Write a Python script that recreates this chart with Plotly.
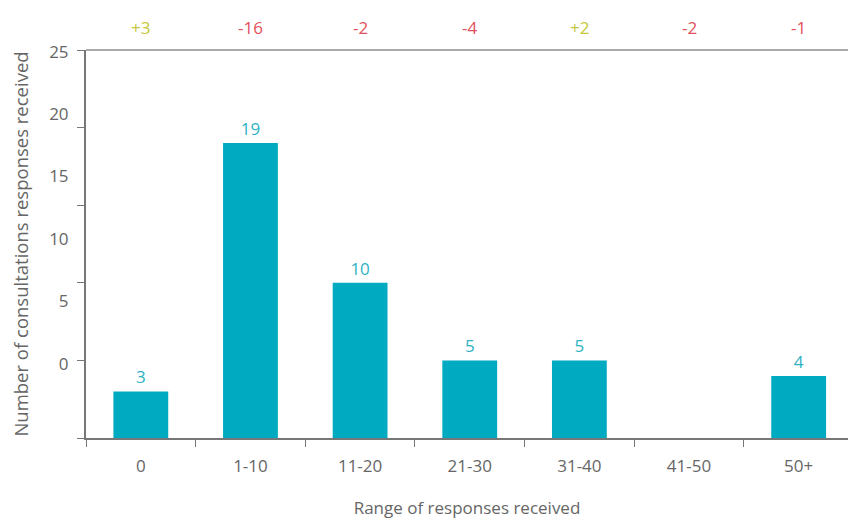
import plotly.graph_objects as go

categories = ["0", "1-10", "11-20", "21-30", "31-40", "41-50", "50+"]
counts = [3, 19, 10, 5, 5, 0, 4]
changes = ["+3", "-16", "-2", "-4", "+2", "-2", "-1"]
ytick_vals = [0, 5, 10, 15, 20, 25]
ylabel_text = ["0", "5", "10", "15", "20", "25"]
# positions where the (misaligned) y labels sit in the original
ylabel_pos = [4.75, 8.8, 12.8, 16.85, 20.9, 24.9]

TEAL = "#00AAC0"
GREEN = "#C5C83A"
RED = "#E2505C"
GREY = "#666666"
FONT = "Open Sans"

fig = go.Figure()
fig.add_trace(go.Bar(
    x=categories, y=counts,
    text=[str(v) if v > 0 else "" for v in counts],
    textposition="outside",
    textfont=dict(color="#2FB2C4", size=17, family=FONT),
    marker=dict(color=TEAL, line=dict(width=0)),
    width=0.5, cliponaxis=False,
))
# invisible trace on second y axis to carry the shifted labels
fig.add_trace(go.Scatter(x=categories, y=[None]*len(categories), yaxis="y2",
                         showlegend=False, hoverinfo="skip"))

for c, t in zip(categories, changes):
    fig.add_annotation(x=c, y=1, xref="x", yref="paper", yshift=23, yanchor="middle",
                       text=t, showarrow=False,
                       font=dict(color=GREEN if t.startswith("+") else RED,
                                 size=17, family=FONT))

fig.add_shape(type="line", xref="paper", yref="paper", x0=0, x1=1, y0=1, y1=1,
              line=dict(color="#AAAAAA", width=2))

fig.update_layout(
    width=848, height=519,
    margin=dict(l=86, r=0, t=50, b=81),
    plot_bgcolor="white", paper_bgcolor="white",
    showlegend=False, bargap=0.5,
    font=dict(family=FONT, color=GREY, size=17),
    xaxis=dict(
        type="category", range=[-0.5, 6.45],
        showline=True, linecolor="#777777", linewidth=1.5,
        ticks="outside", tickson="boundaries", ticklen=7, tickcolor="#777777",
        tickfont=dict(size=17, color=GREY), ticklabelstandoff=12,
        title=dict(text="Range of responses received", standoff=26,
                   font=dict(size=17, color=GREY)),
        showgrid=False, zeroline=False,
    ),
    yaxis=dict(
        range=[0, 25], tickvals=ytick_vals, showticklabels=False,
        showline=True, linecolor="#777777", linewidth=1.5,
        ticks="outside", ticklen=7, tickcolor="#777777",
        showgrid=False, zeroline=False,
        title=dict(text="Number of consultations responses received", standoff=44,
                   font=dict(size=18.5, color=GREY)),
    ),
    yaxis2=dict(
        range=[0, 25], overlaying="y", side="left",
        tickvals=ylabel_pos, ticktext=ylabel_text,
        ticks="outside", ticklen=7, tickcolor="rgba(0,0,0,0)",
        ticklabelstandoff=6,
        tickfont=dict(size=17, color=GREY),
        showgrid=False, zeroline=False, showline=False,
    ),
)

fig.write_html("out.html")
